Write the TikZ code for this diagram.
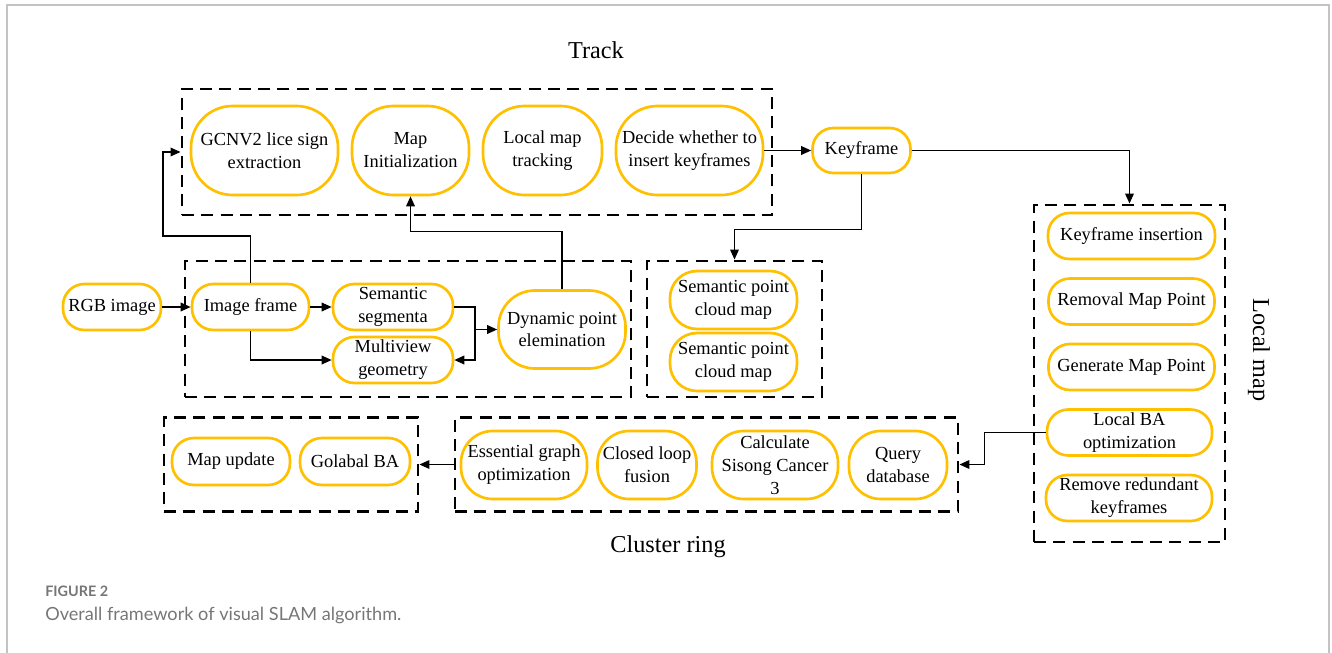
\documentclass[tikz,border=0pt]{standalone}
\usepackage{fontspec}
\setmainfont{Liberation Serif}
\newfontfamily\boxfont{Liberation Serif}
\newfontfamily\capfont{Lato}
\usetikzlibrary{arrows.meta}
\definecolor{pillc}{RGB}{255,192,0}
\definecolor{framegray}{RGB}{195,195,195}
\definecolor{capgray}{RGB}{118,118,118}

\begin{document}
\begin{tikzpicture}[x=0.75pt,y=-0.75pt,
  pill/.style 2 args={draw=pillc, line width=2pt, fill=white, align=center, inner sep=0pt,
    minimum width={#1*0.75pt}, minimum height={#2*0.75pt}, rounded corners={#2*0.35pt},
    font=\boxfont\fontsize{13.8pt}{17.2pt}\selectfont},
  gbox/.style 2 args={draw=black, line width=2.2pt, dash pattern=on 9pt off 5.5pt, inner sep=0pt,
    minimum width={#1*0.75pt}, minimum height={#2*0.75pt}},
  conn/.style={draw=black, line width=1pt, -{Triangle[length=7.5pt,width=6.5pt]}},
  ttl/.style={inner sep=0pt, font=\boxfont\fontsize{18.2pt}{22pt}\selectfont},
  capt/.style={anchor=base west, inner sep=0pt, text=capgray},
]
\useasboundingbox (0,0) rectangle (1332,653);

% card frame
\draw[framegray, line width=1.5pt] (7,653) -- (7,5) -- (1329,5) -- (1329,653);

% group boxes
\node[gbox={590}{126}] (trackbox) at (477,152) {};
\node[gbox={446}{136}] (procbox) at (408,329) {};
\node[gbox={175}{136}] (scbox) at (734.5,329) {};
\node[gbox={191}{337}] (lmbox) at (1129.5,373.5) {};
\node[gbox={254}{94}] (glbox) at (291,464.5) {};
\node[gbox={503}{94}] (clbox) at (706.5,464.5) {};

% group titles
\node[ttl] (tracktitle) at (596,50) {Track};
\node[ttl] (clustertitle) at (668,547) {Cluster ring};
\node[ttl, rotate=-90] (lmtitle) at (1259,350) {Local map};

% tracking
\node[pill={147}{89}] (gcn) at (264.5,150.5) {GCNV2 lice sign\\extraction};
\node[pill={117}{89}] (mapinit) at (410.5,150.5) {Map\\Initialization};
\node[pill={119}{89}] (lmt) at (542.5,150.5) {Local map\\tracking};
\node[pill={147}{89}] (decide) at (689.5,150.5) {Decide whether to\\insert keyframes};
\node[pill={98}{45}] (key) at (861.5,150.5) {Keyframe};

% image processing
\node[pill={98}{46}] (rgb) at (112,307) {RGB image};
\node[pill={117}{46}] (imgf) at (250.5,307) {Image frame};
\node[pill={120}{46}] (semseg) at (393,307) {Semantic\\segmenta};
\node[pill={120}{46}] (multi) at (393,360) {Multiview\\geometry};
\node[pill={127}{78}] (dyn) at (562,329.5) {Dynamic point\\elemination};

% semantic maps
\node[pill={127}{58}] (sc1) at (733.5,300) {Semantic point\\cloud map};
\node[pill={127}{58}] (sc2) at (733.5,362) {Semantic point\\cloud map};

% local mapping
\node[pill={167}{46}] (kins) at (1131.5,236) {Keyframe insertion};
\node[pill={166}{46}] (rmp) at (1131.5,301.5) {Removal Map Point};
\node[pill={166}{46}] (gmp) at (1131.5,367) {Generate Map Point};
\node[pill={165}{46}] (lba) at (1129.5,432.5) {Local BA\\optimization};
\node[pill={166}{46}] (rrk) at (1129,498) {Remove redundant\\keyframes};

% global optimisation
\node[pill={118}{47}] (mapu) at (231,461.5) {Map update};
\node[pill={110}{47}] (gba) at (355,461.5) {Golabal BA};

% loop closing
\node[pill={126}{68}] (ess) at (524,465) {Essential graph\\optimization};
\node[pill={99}{68}] (clf) at (647,465) {Closed loop\\fusion};
\node[pill={126}{68}] (calc) at (775,465) {Calculate\\Sisong Cancer\\3};
\node[pill={98}{68}] (qdb) at (898,465) {Query\\database};

% connectors
\coordinate (upleft) at (163,236);
\coordinate (split) at (475,329.5);
\draw[conn] (decide) -- (key);
\draw[conn] (key) -| (lmbox.north);
\draw[conn] (key.south) -- ++(0,55) -| (scbox.north);
\draw[conn] (imgf.north) |- (upleft) |- (trackbox.west);
\draw[conn] (dyn.north) -- ++(0,-57.5) -| (mapinit.south);
\draw[conn] (rgb) -- (imgf);
\draw[conn] (imgf) -- (semseg);
\draw[conn] (imgf.south) |- (multi.west);
\draw[conn] (semseg.east) -| (split) |- (multi.east);
\draw[conn] (split) -- (dyn.west);
\draw[conn] (lba.west) -- ++(-61.3,0) |- (clbox.east);
\draw[conn] (clbox.west) -- (glbox.east);

% caption
\node[capt, font=\capfont\bfseries\fontsize{10.8pt}{13pt}\selectfont] (figno) at (45,596) {FIGURE 2};
\node[capt, font=\capfont\fontsize{13.6pt}{16pt}\selectfont] (figcap) at (45,620.5) {Overall framework of visual SLAM algorithm.};
\end{tikzpicture}
\end{document}
